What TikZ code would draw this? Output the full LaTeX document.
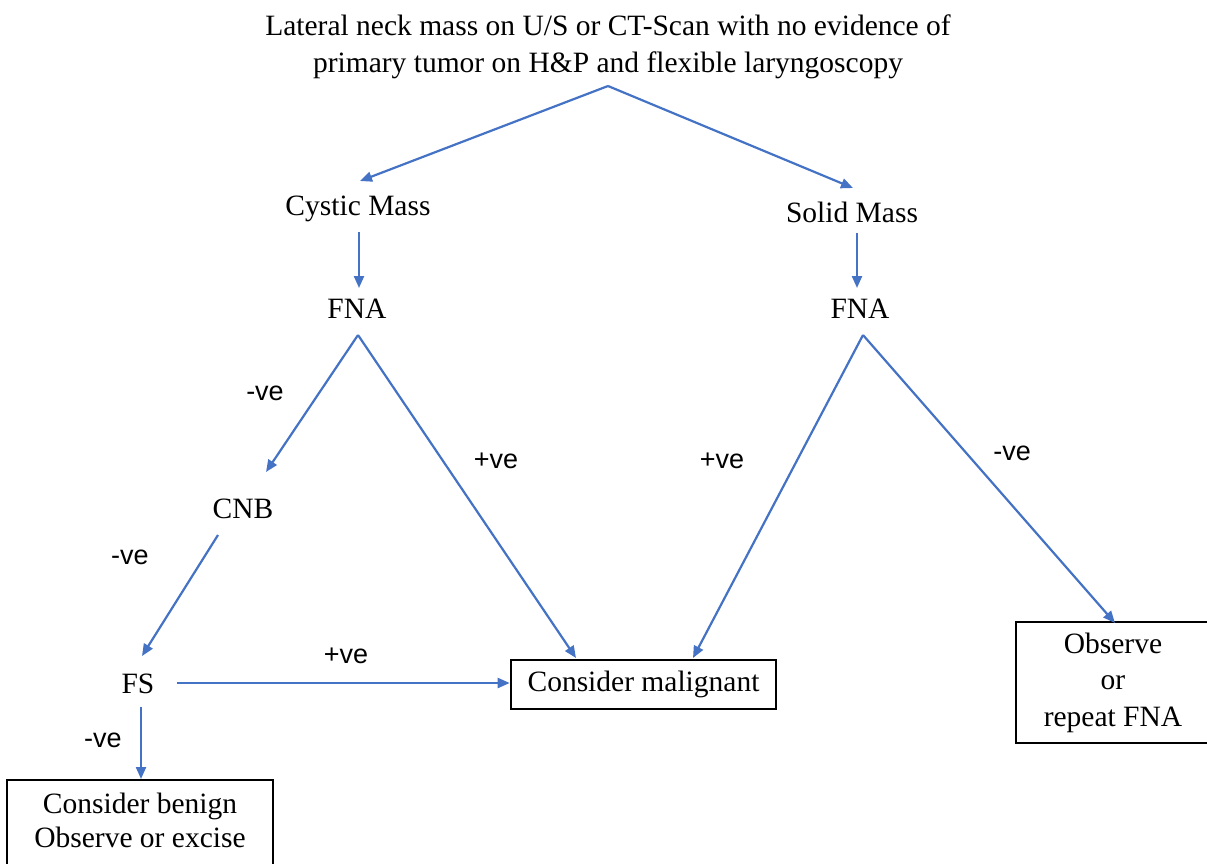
\documentclass[tikz,border=0pt]{standalone}
\usepackage{fontspec}
\setmainfont{Liberation Serif}
\newfontfamily\labfont{Liberation Sans}
\usetikzlibrary{arrows.meta}
\definecolor{arrblue}{RGB}{68,114,196}
\begin{document}
\begin{tikzpicture}[x=1pt,y=-1pt,
  txt/.style={font=\fontsize{29.5}{37}\selectfont, inner sep=0pt, anchor=base},
  mtxt/.style={font=\fontsize{29.5}{#1}\selectfont, inner sep=0pt, anchor=north, align=center},
  lab/.style={font=\labfont\fontsize{27}{32}\selectfont, inner sep=0pt, anchor=base},
  arr/.style={draw=arrblue, line width=2.2pt, -{Triangle[length=12pt,width=10pt]}},
  boxed/.style={draw=black, line width=2.6pt, inner sep=0pt}]
\useasboundingbox (0,0) rectangle (1207,863);

% text nodes
\node[mtxt=37] (top) at (608,15) {Lateral neck mass on U/S or CT-Scan with no evidence of\\primary tumor on H\&P and flexible laryngoscopy};
\node[txt] (cystic) at (358,215) {Cystic Mass};
\node[txt] (solid) at (852,222) {Solid Mass};
\node[txt] (fnaL) at (357,318) {FNA};
\node[txt] (fnaR) at (860,318) {FNA};
\node[txt] (cnb) at (243,518) {CNB};
\node[txt] (fs) at (138,693) {FS};

% boxes
\node[boxed, minimum width=265pt, minimum height=49pt, font=\fontsize{29.5}{37}\selectfont] (mal) at (643.5,684.5) {Consider malignant};
\node[boxed, minimum width=266pt, minimum height=88pt] (benbox) at (140,824) {};
\node[mtxt=34] (ben) at (140,793) {Consider benign\\Observe or excise};
\node[boxed, minimum width=194pt, minimum height=121pt, align=center, font=\fontsize{29.5}{36.5}\selectfont] (obs) at (1113,682.5) {Observe\\or\\repeat FNA};

% connector end points
\coordinate (split) at (608,86);
\coordinate (cysticIn) at (360,181);
\coordinate (solidIn) at (853,188);
\coordinate (cysticOut) at (359,232);
\coordinate (fnaLIn) at (359,288);
\coordinate (solidOut) at (857,233);
\coordinate (fnaRIn) at (857,288);
\coordinate (fnaLOut) at (358,335);
\coordinate (fnaROut) at (863,335);
\coordinate (cnbIn) at (266,472);
\coordinate (malInL) at (576,658);
\coordinate (malInR) at (693,658);
\coordinate (obsIn) at (1115,623);
\coordinate (cnbOut) at (218,535);
\coordinate (fsIn) at (142,656);
\coordinate (fsOutR) at (177,683);
\coordinate (fsOutD) at (141,707);
\coordinate (benIn) at (141,779);

% connectors
\draw[arr] (split) -- (cysticIn);
\draw[arr] (split) -- (solidIn);
\draw[arr] (cysticOut) -- (fnaLIn);
\draw[arr] (solidOut) -- (fnaRIn);
\draw[arr] (fnaLOut) -- (cnbIn);
\draw[arr] (fnaLOut) -- (malInL);
\draw[arr] (fnaROut) -- (malInR);
\draw[arr] (fnaROut) -- (obsIn);
\draw[arr] (cnbOut) -- (fsIn);
\draw[arr] (fsOutR) -- (mal.west |- fsOutR);
\draw[arr] (fsOutD) -- (benIn);

% labels
\node[lab] (l1) at (265,400) {-ve};
\node[lab] (l2) at (496,468) {+ve};
\node[lab] (l3) at (722,468) {+ve};
\node[lab] (l4) at (1012,460) {-ve};
\node[lab] (l5) at (130,564) {-ve};
\node[lab] (l6) at (346,663) {+ve};
\node[lab] (l7) at (103,747) {-ve};
\end{tikzpicture}
\end{document}
